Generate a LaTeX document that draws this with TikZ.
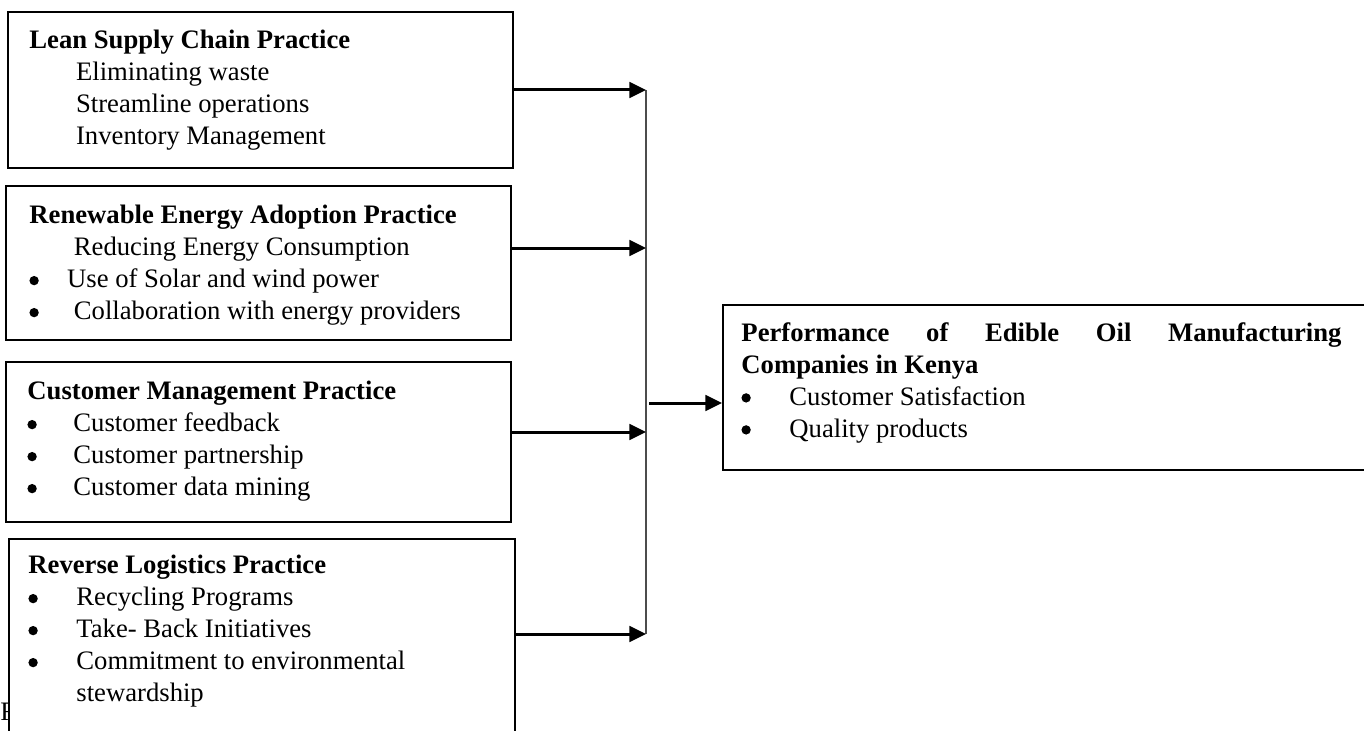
\documentclass[tikz,border=0pt]{standalone}
\usepackage{fontspec}
\setmainfont{Liberation Serif}
\usetikzlibrary{arrows.meta,positioning}

\newcommand{\bul}[1]{\makebox[#1][l]{\tikz[baseline=-3.3pt]\fill (2.2pt,0pt) circle (2.1pt);}}

\begin{document}
\begin{tikzpicture}[x=0.45pt,y=-0.45pt,
   box/.style={draw,line width=0.9pt,fill=white,anchor=north west,inner sep=0pt},
   boxtext/.style={anchor=north west,align=left,inner sep=0pt,
      font=\fontsize{12}{14.4}\selectfont},
   feed/.style={line width=1.35pt,-{Triangle[length=7.5pt,width=7pt]}},
   bus/.style={line width=0.6pt,black!70}]

\useasboundingbox (0,0) rectangle (1364,730);

% independent variables
\node[box,minimum width=227.25pt,minimum height=70.2pt] (lean) at (7,11) {};
\node[boxtext] (leantext) at ([shift={(22,19)}]lean.north west)
   {\textbf{Lean Supply Chain Practice}\\
    \hspace*{21pt}Eliminating waste\\
    \hspace*{21pt}Streamline operations\\
    \hspace*{21pt}Inventory Management};

\node[box,minimum width=227.25pt,minimum height=69.3pt] (renew) at (5,185) {};
\node[boxtext] (renewtext) at ([shift={(24,20)}]renew.north west)
   {\textbf{Renewable Energy Adoption Practice}\\
    \hspace*{20pt}Reducing Energy Consumption\\
    \bul{17pt}Use of Solar and wind power\\
    \bul{17pt} Collaboration with energy providers};

\node[box,minimum width=227.25pt,minimum height=72pt] (cust) at (5,361) {};
\node[boxtext] (custtext) at ([shift={(22,20)}]cust.north west)
   {\textbf{Customer Management Practice}\\
    \bul{20.7pt}Customer feedback\\
    \bul{20.7pt}Customer partnership\\
    \bul{20.7pt}Customer data mining};

\node[anchor=base west,inner sep=0pt,font=\fontsize{12}{14.4}\selectfont] (fig) at (0,720) {F};
\node[box,minimum width=227.7pt,minimum height=99pt] (rev) at (8,538) {};
\node[boxtext] (revtext) at ([shift={(20,17)}]rev.north west)
   {\textbf{Reverse Logistics Practice}\\
    \bul{21.6pt}Recycling Programs\\
    \bul{21.6pt}Take- Back Initiatives\\
    \bul{21.6pt}Commitment to environmental\\
    \hspace*{21.6pt}stewardship};

% dependent variable
\node[box,minimum width=306pt,minimum height=74.25pt] (perf) at (722,304) {};
\node[boxtext] (perftext) at ([shift={(19,18)}]perf.north west)
   {\textbf{\makebox[270pt][s]{Performance of Edible Oil Manufacturing}}\\
    \textbf{Companies in Kenya}\\
    \bul{21.6pt}Customer Satisfaction\\
    \bul{21.6pt}Quality products};

% connectors
\coordinate (j1) at (646,90);
\coordinate (j2) at (646,248);
\coordinate (j3) at (646,432);
\coordinate (j4) at (646,634);
\coordinate (j5) at (649,403);
\draw[bus] (j1) -- (j4);
\draw[feed] (lean.east |- j1) -- (j1);
\draw[feed] (renew.east |- j2) -- (j2);
\draw[feed] (cust.east |- j3) -- (j3);
\draw[feed] (rev.east |- j4) -- (j4);
\draw[feed] (j5) -- (perf.west |- j5);
\end{tikzpicture}
\end{document}
